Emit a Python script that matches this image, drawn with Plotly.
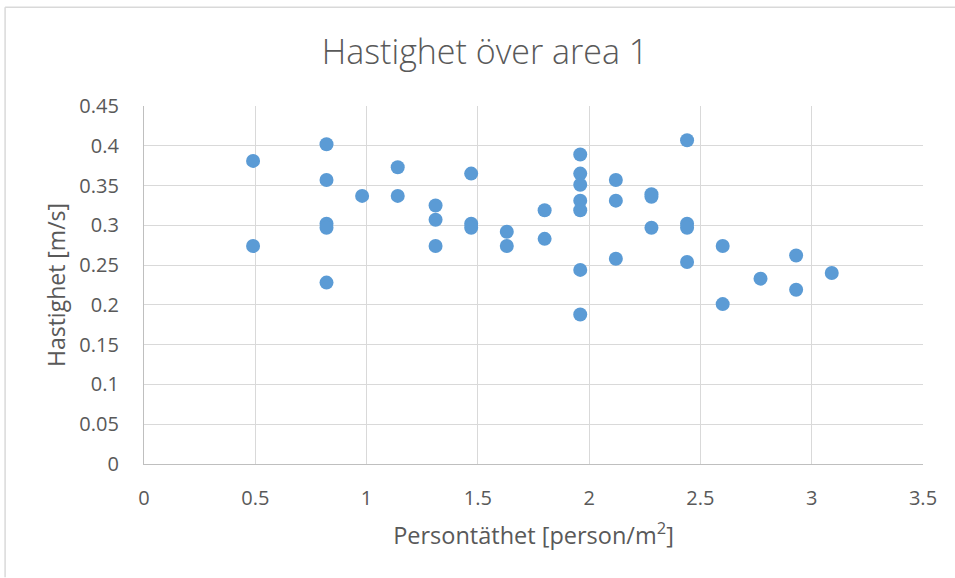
import plotly.graph_objects as go

# Persontäthet [person/m²] and Hastighet [m/s]
x_density = [
    0.49, 0.49,
    0.82, 0.82, 0.82, 0.82, 0.82,
    0.98,
    1.14, 1.14,
    1.31, 1.31, 1.31,
    1.47, 1.47, 1.47,
    1.63, 1.63,
    1.80, 1.80,
    1.96, 1.96, 1.96, 1.96, 1.96, 1.96, 1.96,
    2.12, 2.12, 2.12,
    2.28, 2.28, 2.28,
    2.44, 2.44, 2.44, 2.44,
    2.60, 2.60,
    2.77,
    2.93, 2.93,
    3.09,
]
y_speed = [
    0.381, 0.274,
    0.402, 0.357, 0.302, 0.297, 0.228,
    0.337,
    0.373, 0.337,
    0.325, 0.307, 0.274,
    0.365, 0.302, 0.297,
    0.292, 0.274,
    0.319, 0.283,
    0.389, 0.365, 0.351, 0.331, 0.319, 0.244, 0.188,
    0.357, 0.331, 0.258,
    0.339, 0.336, 0.297,
    0.407, 0.302, 0.297, 0.254,
    0.274, 0.201,
    0.233,
    0.262, 0.219,
    0.240,
]

title_text = "Hastighet över area 1"
x_title = "Persontäthet [person/m<sup>2</sup>]"
y_title = "Hastighet [m/s]"

W, H = 955, 578
ml, mr, mt, mb = 143.5, 32, 106, 113.5
pw = W - ml - mr
ph = H - mt - mb

def px(xp):
    return (xp - ml) / pw

def py(yp):
    return (H - mb - yp) / ph

FONT = "Open Sans"
GRAY = "#595959"
GRID = "#d9d9d9"

fig = go.Figure()
fig.add_trace(go.Scatter(
    x=x_density, y=y_speed, mode="markers",
    marker=dict(size=14, color="#5B9BD5", line=dict(width=0)),
    showlegend=False, hoverinfo="x+y",
))

fig.update_layout(
    width=W, height=H,
    margin=dict(l=ml, r=mr, t=mt, b=mb, autoexpand=False),
    paper_bgcolor="white", plot_bgcolor="white",
    title=dict(text=title_text, x=(485) / W, xanchor="center",
               y=1 - 52 / H, yanchor="middle",
               font=dict(family=FONT, size=34, color=GRAY, weight=300)),
    font=dict(family=FONT, color=GRAY),
    xaxis=dict(
        range=[0, 3.5], dtick=0.5, tick0=0,
        showgrid=True, gridcolor=GRID, gridwidth=1.3,
        zeroline=False, showline=True, linecolor="#bfbfbf", linewidth=1.3,
        ticks="outside", ticklen=16, tickcolor="rgba(0,0,0,0)",
        tickfont=dict(family=FONT, size=20, color=GRAY),
        title=dict(text=x_title, standoff=17,
                   font=dict(family=FONT, size=23.5, color=GRAY)),
        fixedrange=True,
    ),
    yaxis=dict(
        range=[0, 0.45], dtick=0.05, tick0=0,
        showgrid=True, gridcolor=GRID, gridwidth=1.3,
        zeroline=False, showline=True, linecolor="#bfbfbf", linewidth=1.3,
        ticks="outside", ticklen=20, tickcolor="rgba(0,0,0,0)",
        tickfont=dict(family=FONT, size=20, color=GRAY),
        title=dict(text=y_title, standoff=7,
                   font=dict(family=FONT, size=23, color=GRAY)),
        fixedrange=True,
    ),
    shapes=[
        dict(type="line", xref="paper", yref="paper",
             x0=px(4.5), x1=px(W), y0=py(7), y1=py(7),
             line=dict(color=GRID, width=1.5)),
        dict(type="line", xref="paper", yref="paper",
             x0=px(4.5), x1=px(4.5), y0=py(7), y1=py(H),
             line=dict(color=GRID, width=1.5)),
    ],
)

fig.write_html("out.html")
